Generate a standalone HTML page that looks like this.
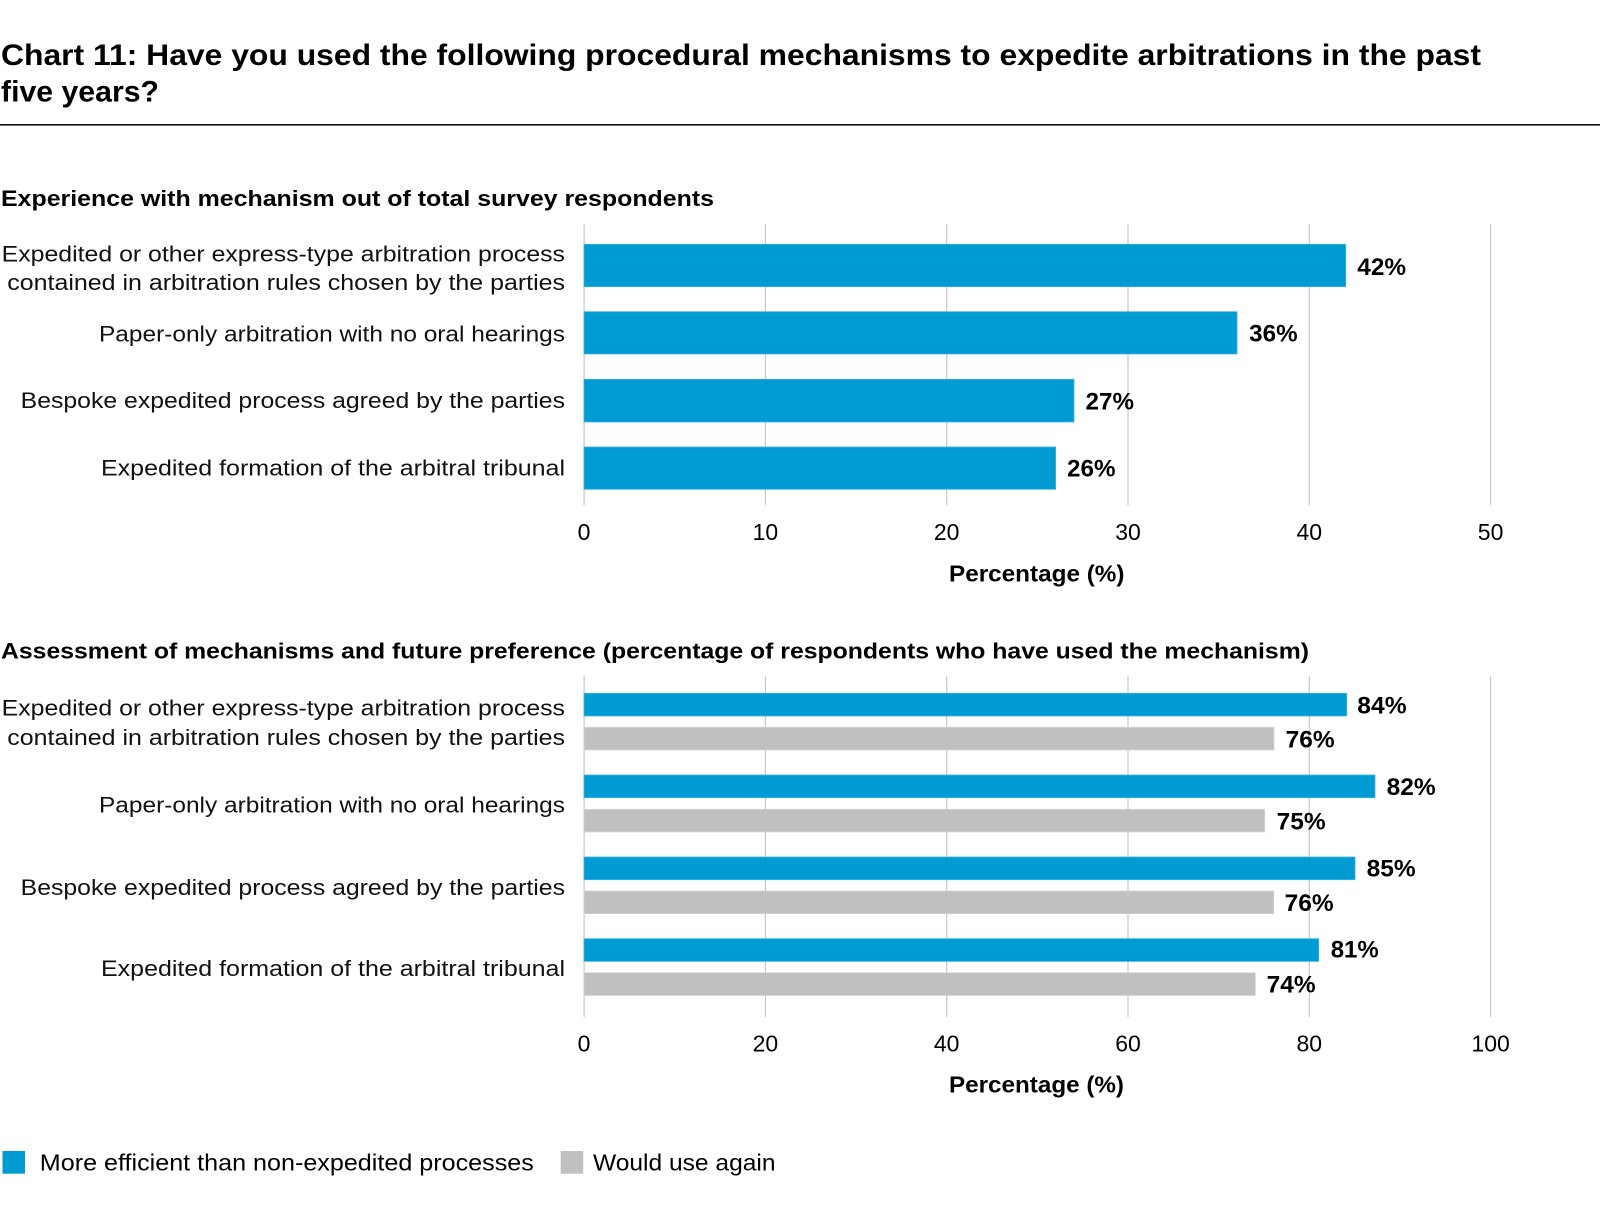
<!DOCTYPE html>
<html>
<head>
<meta charset="utf-8">
<style>
  html, body { margin: 0; padding: 0; background: #ffffff; }
  svg { display: block; }
  text { font-family: "Liberation Sans", Arial, sans-serif; fill: #000; }
  .b { font-weight: bold; }
  .lab { font-size: 22.5px; fill: #111; }
  .tick { font-size: 23px; fill: #111; }
  .val { font-size: 24px; font-weight: bold; }
</style>
</head>
<body>
<svg width="1600" height="1213" viewBox="0 0 1600 1213" xmlns="http://www.w3.org/2000/svg">
  <rect x="0" y="0" width="1600" height="1213" fill="#ffffff"/>

  <!-- Title -->
  <text class="b" x="1" y="65" font-size="30" textLength="1480" lengthAdjust="spacingAndGlyphs">Chart 11: Have you used the following procedural mechanisms to expedite arbitrations in the past</text>
  <text class="b" x="1" y="101.5" font-size="30" textLength="158" lengthAdjust="spacingAndGlyphs">five years?</text>
  <rect x="0" y="124" width="1600" height="1.6" fill="#111"/>

  <!-- ===== Chart 1 ===== -->
  <text class="b" x="1" y="206" font-size="22.5" textLength="713" lengthAdjust="spacingAndGlyphs">Experience with mechanism out of total survey respondents</text>

  <!-- gridlines -->
  <g fill="#c8c8c8">
    <rect x="583.5" y="224.3" width="1.2" height="281"/>
    <rect x="764.8" y="224.3" width="1.2" height="281"/>
    <rect x="946.1" y="224.3" width="1.2" height="281"/>
    <rect x="1127.4" y="224.3" width="1.2" height="281"/>
    <rect x="1308.7" y="224.3" width="1.2" height="281"/>
    <rect x="1490" y="224.3" width="1.2" height="281"/>
  </g>

  <!-- bars -->
  <g fill="#009bd3" stroke="#3fb2de" stroke-width="0.8">
    <rect x="584" y="244.3" width="761.7" height="42.4"/>
    <rect x="584" y="311.7" width="653" height="42.3"/>
    <rect x="584" y="379.3" width="490" height="42.7"/>
    <rect x="584" y="447" width="471.6" height="42.3"/>
  </g>

  <!-- category labels -->
  <text class="lab" x="1.7" y="261.5" textLength="563.3" lengthAdjust="spacingAndGlyphs">Expedited or other express-type arbitration process</text>
  <text class="lab" x="7.3" y="290" textLength="557.7" lengthAdjust="spacingAndGlyphs">contained in arbitration rules chosen by the parties</text>
  <text class="lab" x="99" y="341.5" textLength="466" lengthAdjust="spacingAndGlyphs">Paper-only arbitration with no oral hearings</text>
  <text class="lab" x="20.7" y="408" textLength="544.3" lengthAdjust="spacingAndGlyphs">Bespoke expedited process agreed by the parties</text>
  <text class="lab" x="101" y="475.5" textLength="464" lengthAdjust="spacingAndGlyphs">Expedited formation of the arbitral tribunal</text>

  <!-- value labels -->
  <text class="val" x="1357.3" y="275" textLength="48.7" lengthAdjust="spacingAndGlyphs">42%</text>
  <text class="val" x="1249.2" y="341.7" textLength="48.4" lengthAdjust="spacingAndGlyphs">36%</text>
  <text class="val" x="1085.5" y="409.3" textLength="48.5" lengthAdjust="spacingAndGlyphs">27%</text>
  <text class="val" x="1067" y="476.7" textLength="48.5" lengthAdjust="spacingAndGlyphs">26%</text>

  <!-- ticks -->
  <g class="tick" text-anchor="middle">
    <text x="584" y="540">0</text>
    <text x="765.4" y="540">10</text>
    <text x="946.7" y="540">20</text>
    <text x="1128" y="540">30</text>
    <text x="1309.3" y="540">40</text>
    <text x="1490.6" y="540">50</text>
  </g>
  <text class="b" x="949" y="581.7" font-size="23" textLength="175.5" lengthAdjust="spacingAndGlyphs">Percentage (%)</text>

  <!-- ===== Chart 2 ===== -->
  <text class="b" x="1" y="658.3" font-size="22.5" textLength="1308" lengthAdjust="spacingAndGlyphs">Assessment of mechanisms and future preference (percentage of respondents who have used the mechanism)</text>

  <g fill="#c8c8c8">
    <rect x="583.5" y="676" width="1.2" height="341"/>
    <rect x="764.8" y="676" width="1.2" height="341"/>
    <rect x="946.1" y="676" width="1.2" height="341"/>
    <rect x="1127.4" y="676" width="1.2" height="341"/>
    <rect x="1308.7" y="676" width="1.2" height="341"/>
    <rect x="1490" y="676" width="1.2" height="341"/>
  </g>

  <g fill="#009bd3" stroke="#3fb2de" stroke-width="0.8">
    <rect x="584" y="693.3" width="762.7" height="22.7"/>
    <rect x="584" y="775" width="791" height="22.7"/>
    <rect x="584" y="857" width="771" height="22.7"/>
    <rect x="584" y="938.7" width="734.7" height="22.7"/>
  </g>
  <g fill="#c0c0c0" stroke="#d4d4d4" stroke-width="0.8">
    <rect x="584" y="727.3" width="690" height="22.7"/>
    <rect x="584" y="809.3" width="680.7" height="22.7"/>
    <rect x="584" y="891" width="689.7" height="22.7"/>
    <rect x="584" y="972.7" width="671.3" height="22.7"/>
  </g>

  <text class="lab" x="1.7" y="715.7" textLength="563.3" lengthAdjust="spacingAndGlyphs">Expedited or other express-type arbitration process</text>
  <text class="lab" x="7.3" y="745" textLength="557.7" lengthAdjust="spacingAndGlyphs">contained in arbitration rules chosen by the parties</text>
  <text class="lab" x="99" y="812.5" textLength="466" lengthAdjust="spacingAndGlyphs">Paper-only arbitration with no oral hearings</text>
  <text class="lab" x="20.7" y="895" textLength="544.3" lengthAdjust="spacingAndGlyphs">Bespoke expedited process agreed by the parties</text>
  <text class="lab" x="101" y="976" textLength="464" lengthAdjust="spacingAndGlyphs">Expedited formation of the arbitral tribunal</text>

  <text class="val" x="1357.3" y="713.3" textLength="49.3" lengthAdjust="spacingAndGlyphs">84%</text>
  <text class="val" x="1285.7" y="747.5" textLength="49" lengthAdjust="spacingAndGlyphs">76%</text>
  <text class="val" x="1386.7" y="795" textLength="49" lengthAdjust="spacingAndGlyphs">82%</text>
  <text class="val" x="1276.7" y="829.3" textLength="49" lengthAdjust="spacingAndGlyphs">75%</text>
  <text class="val" x="1366.7" y="876.7" textLength="49" lengthAdjust="spacingAndGlyphs">85%</text>
  <text class="val" x="1284.7" y="911" textLength="49" lengthAdjust="spacingAndGlyphs">76%</text>
  <text class="val" x="1330.7" y="957.7" textLength="48" lengthAdjust="spacingAndGlyphs">81%</text>
  <text class="val" x="1266.7" y="992.3" textLength="49" lengthAdjust="spacingAndGlyphs">74%</text>

  <g class="tick" text-anchor="middle">
    <text x="584" y="1051.7">0</text>
    <text x="765.4" y="1051.7">20</text>
    <text x="946.7" y="1051.7">40</text>
    <text x="1128" y="1051.7">60</text>
    <text x="1309.3" y="1051.7">80</text>
    <text x="1490.6" y="1051.7">100</text>
  </g>
  <text class="b" x="949" y="1092.7" font-size="23" textLength="175" lengthAdjust="spacingAndGlyphs">Percentage (%)</text>

  <!-- Legend -->
  <rect x="2.5" y="1151" width="22.5" height="22.7" fill="#009bd3"/>
  <text x="39.8" y="1170.7" font-size="23" fill="#111" textLength="494" lengthAdjust="spacingAndGlyphs">More efficient than non-expedited processes</text>
  <rect x="560.7" y="1151" width="22.5" height="22.7" fill="#c0c0c0"/>
  <text x="593" y="1170.7" font-size="23" fill="#111" textLength="182.5" lengthAdjust="spacingAndGlyphs">Would use again</text>
</svg>
</body>
</html>
